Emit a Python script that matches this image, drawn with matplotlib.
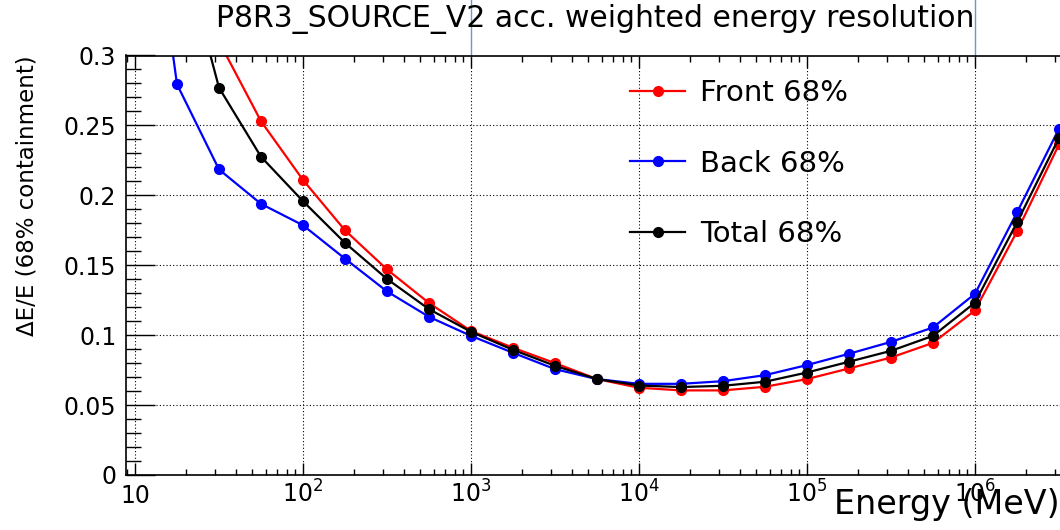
import numpy as np
import matplotlib
matplotlib.use("Agg")
import matplotlib.pyplot as plt
from matplotlib import font_manager
from matplotlib.ticker import FuncFormatter, LogLocator, MultipleLocator
from matplotlib.transforms import blended_transform_factory

# ---------------- data ----------------
log_energy = [1.0, 1.25, 1.5, 1.75, 2.0, 2.25, 2.5, 2.75, 3.0, 3.25, 3.5, 3.75,
              4.0, 4.25, 4.5, 4.75, 5.0, 5.25, 5.5, 5.75, 6.0, 6.25, 6.5]
front = [0.80, 0.45, 0.31, 0.253, 0.211, 0.175, 0.147, 0.123, 0.103, 0.091, 0.080, 0.0686,
         0.0624, 0.0605, 0.0605, 0.0631, 0.0686, 0.0762, 0.084, 0.0945, 0.1177, 0.1742, 0.2364]
back = [0.50, 0.2794, 0.2185, 0.1939, 0.1786, 0.1547, 0.1313, 0.1131, 0.0995, 0.0874, 0.0757, 0.0686,
        0.0652, 0.0652, 0.0671, 0.0714, 0.0786, 0.0867, 0.0952, 0.1055, 0.1296, 0.1878, 0.2476]
total = [0.60, 0.39, 0.277, 0.2276, 0.1958, 0.166, 0.1402, 0.1186, 0.1024, 0.0895, 0.0781, 0.0686,
         0.064, 0.0629, 0.0638, 0.0667, 0.0733, 0.081, 0.0888, 0.0995, 0.1233, 0.1806, 0.2411]
series_labels = ["Front 68%", "Back 68%", "Total 68%"]
series_colors = ["#ff0000", "#0000ff", "#000000"]
title_text = "P8R3_SOURCE_V2 acc. weighted energy resolution"
xlabel_text = "Energy (MeV)"
ylabel_text = "\u0394E/E (68% containment)"
y_ticks = [0, 0.05, 0.1, 0.15, 0.2, 0.25, 0.3]
top_marks = [1e3, 1e6]

energy = [10 ** e for e in log_energy]

# ---------------- figure ----------------
fig = plt.figure(figsize=(10.6, 5.3), dpi=100)
ax = fig.add_axes([126 / 1060, 1 - 475 / 530, (1060 - 126) / 1060, 419.5 / 530])

for vals, lab, col in zip([front, back, total], series_labels, series_colors):
    ax.plot(energy, vals, color=col, lw=1.6, marker="o", ms=7, label=lab)

ax.set_xscale("log")
ax.set_xlim(10 ** (1 - 9 / 168), 10 ** (1 + (1060 - 135) / 168))
ax.set_ylim(0, 0.3)

ax.xaxis.set_major_locator(LogLocator(base=10, numticks=20))
ax.xaxis.set_minor_locator(LogLocator(base=10, subs=np.arange(2, 10), numticks=50))


def xfmt(v, pos):
    e = int(round(np.log10(v)))
    if e == 1:
        return "10"
    return r"$\mathregular{10^{%d}}$" % e


ax.xaxis.set_major_formatter(FuncFormatter(xfmt))
ax.set_yticks(y_ticks)
ax.yaxis.set_minor_locator(MultipleLocator(0.01))
ax.yaxis.set_major_formatter(FuncFormatter(lambda v, p: "%g" % round(v, 3)))

ax.tick_params(axis="both", which="both", direction="in", top=True, right=False, color="black")
ax.tick_params(axis="y", which="major", length=21, width=1.0, labelsize=17, pad=7)
ax.tick_params(axis="y", which="minor", length=11, width=1.0)
ax.tick_params(axis="x", which="major", length=8.6, width=1.0, labelsize=17, pad=20)
ax.tick_params(axis="x", which="minor", length=4.3, width=1.0)
for lbl in ax.get_xticklabels():
    lbl.set_verticalalignment("baseline")

ax.grid(True, which="major", color="black", linestyle=(0, (1, 2)), linewidth=0.8)
ax.spines["right"].set_visible(False)
for s in ["left", "bottom", "top"]:
    ax.spines[s].set_linewidth(1.2)

# axis labels
ax.set_xlabel(xlabel_text, fontsize=24, ha="right", va="baseline")
ax.xaxis.set_label_coords(1.0, (475 - 514) / 419.5)

names = {f.name for f in font_manager.fontManager.ttflist}
if "Liberation Sans Narrow" in names:
    ax.set_ylabel(ylabel_text, fontsize=21, family=["Liberation Sans Narrow", "DejaVu Sans"],
                  ha="right", va="center")
else:
    ax.set_ylabel(ylabel_text, fontsize=16.5, ha="right", va="center")
ax.yaxis.label.set_rotation_mode("anchor")
ax.yaxis.set_label_coords((27 - 126) / 934, 1.0)

# title
fig.text(595 / 1060, 1 - 27 / 530, title_text, fontsize=21.5, ha="center", va="baseline")

# thin marker lines above the frame
trans = blended_transform_factory(ax.transData, ax.transAxes)
for xm in top_marks:
    ax.plot([xm, xm], [1.0, 1.14], transform=trans, clip_on=False, color="#6f94d9", lw=1.0)

# legend
ax.legend(loc="upper left", bbox_to_anchor=((630 - 126) / 934, (475 - 79) / 419.5),
          frameon=False, fontsize=21, handlelength=1.9, handletextpad=0.5,
          labelspacing=1.46, borderpad=0, borderaxespad=0)

fig.savefig("out.png", dpi=100)
